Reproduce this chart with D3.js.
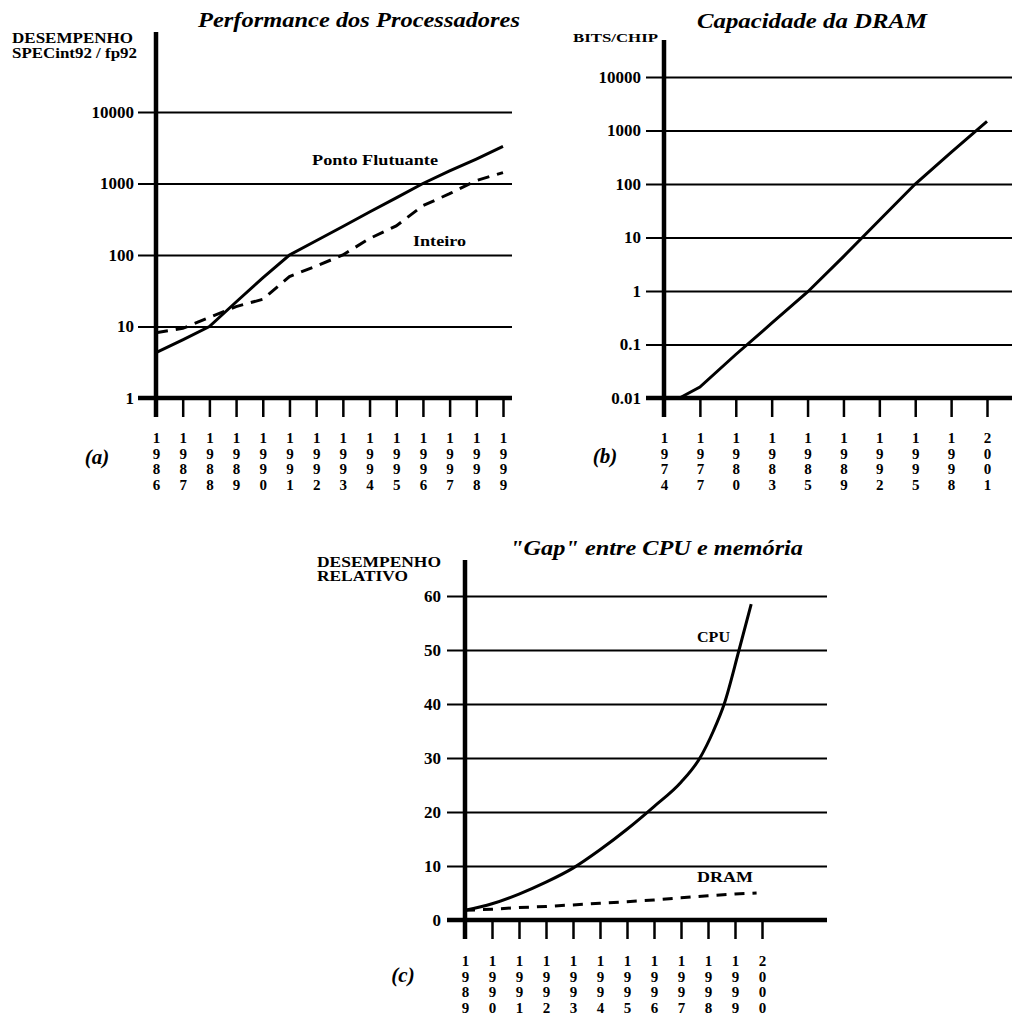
<!DOCTYPE html>
<html>
<head>
<meta charset="utf-8">
<script src="https://cdn.jsdelivr.net/npm/d3@7/dist/d3.min.js"></script>
<style>
  body { margin: 0; background: #fff; }
  text { font-family: "Liberation Serif", "Times New Roman", serif; fill: #000; }
</style>
</head>
<body>
<svg id="chart" width="1012" height="1016"></svg>
<script>
// ── (a) Performance dos Processadores ───────────────────────────
const perfYears = [1986, 1987, 1988, 1989, 1990, 1991, 1992, 1993, 1994, 1995, 1996, 1997, 1998, 1999];
const perfFloat = [4.3, 6.5, 10, 22, 48, 100, 158, 250, 400, 630, 1000, 1500, 2200, 3300];
const perfInt = [8.2, 9.4, 13.4, 19, 24, 50, 70, 100, 170, 255, 490, 720, 1100, 1420];
const perfYTicks = [1, 10, 100, 1000, 10000];

// ── (b) Capacidade da DRAM ───────────────────────────────────────
const dramTickYears = [1974, 1977, 1980, 1983, 1986, 1989, 1992, 1995, 1998, 2001];
const dramTickLabels = ['1974', '1977', '1980', '1983', '1985', '1989', '1992', '1995', '1998', '2001'];
const dramYears = [1975.3, 1977, 1980, 1983, 1986, 1989, 1992, 1995, 1998, 2001];
const dramBits = [0.01, 0.016, 0.065, 0.25, 0.96, 4.4, 21, 100, 390, 1480];
const dramYTicks = [0.01, 0.1, 1, 10, 100, 1000, 10000];

// ── (c) "Gap" entre CPU e memória ────────────────────────────────
const gapTickYears = [1989, 1990, 1991, 1992, 1993, 1994, 1995, 1996, 1997, 1998, 1999, 2000];
const gapTickLabels = ['1989', '1990', '1991', '1992', '1993', '1994', '1995', '1996', '1997', '1998', '1999', '2000'];
const cpuYears = [1989, 1990, 1991, 1992, 1993, 1994, 1995, 1996, 1997, 1997.7, 1998.2, 1998.6, 1999.15, 1999.6];
const cpuPerf = [1.8, 3, 4.8, 7, 9.6, 13, 16.8, 21, 25.5, 30, 35, 40, 50, 58.5];
const memYears = [1989, 1990, 1991, 1992, 1993, 1994, 1995, 1996, 1997, 1998, 1999, 1999.8];
const memPerf = [1.8, 2.0, 2.3, 2.5, 2.8, 3.1, 3.4, 3.7, 4.1, 4.5, 4.8, 5.0];
const gapYTicks = [0, 10, 20, 30, 40, 50, 60];

const svg = d3.select('#chart');

function panel(cfg) {
  const g = svg.append('g');
  const x = d3.scaleLinear().domain(cfg.xDomain).range(cfg.xRange);
  const y = (cfg.log ? d3.scaleLog() : d3.scaleLinear()).domain(cfg.yDomain).range(cfg.yRange);
  const axisX = cfg.xRange[0];
  const base = cfg.yRange[0];
  const tickOut = 18;

  // gridlines + left ticks + labels
  g.append('g')
    .attr('transform', `translate(${axisX - tickOut},0)`)
    .call(d3.axisLeft(y).tickValues(cfg.yTicks)
      .tickSize(-(cfg.gridRight - axisX + tickOut))
      .tickPadding(cfg.yPad)
      .tickFormat(d => String(d)))
    .call(a => a.select('.domain').remove())
    .call(a => a.selectAll('line').attr('stroke', '#000').attr('stroke-width', 2))
    .call(a => a.selectAll('text')
      .attr('font-family', '"Liberation Serif", serif')
      .attr('font-size', 17).attr('font-weight', 'bold').attr('fill', '#000'));

  // bottom ticks with stacked digit labels
  const xa = g.append('g')
    .attr('transform', `translate(0,${base})`)
    .call(d3.axisBottom(x).tickValues(cfg.xTicks).tickSize(19).tickFormat(''))
    .call(a => a.select('.domain').remove())
    .call(a => a.selectAll('line').attr('stroke', '#000').attr('stroke-width', 2.5));
  xa.selectAll('.tick').each(function (d, i) {
    const t = d3.select(this).append('text')
      .attr('text-anchor', 'middle')
      .attr('font-size', 15).attr('font-weight', 'bold')
      .attr('fill', '#000');
    cfg.xLabels[i].split('').forEach((ch, k) => {
      t.append('tspan').attr('x', 0).attr('y', cfg.labelTop - base + k * 15.5).text(ch);
    });
  });

  // thick axes
  g.append('line').attr('x1', axisX - tickOut).attr('x2', cfg.gridRight)
    .attr('y1', base).attr('y2', base).attr('stroke', '#000').attr('stroke-width', 4.5);
  g.append('line').attr('x1', axisX).attr('x2', axisX)
    .attr('y1', cfg.axisTop).attr('y2', base + 19).attr('stroke', '#000').attr('stroke-width', 4.5);

  // series
  cfg.series.forEach(s => {
    const pts = s.xs.map((v, i) => [v, s.ys[i]]);
    const line = d3.line().x(d => x(d[0])).y(d => y(d[1])).curve(s.curve || d3.curveLinear);
    g.append('path').attr('d', line(pts))
      .attr('fill', 'none').attr('stroke', '#000').attr('stroke-width', 3)
      .attr('stroke-dasharray', s.dash || null);
  });

  // texts
  cfg.texts.forEach(t => {
    const el = g.append('text').attr('x', t.x).attr('y', t.y)
      .attr('font-size', t.size).attr('font-weight', 'bold')
      .attr('font-style', t.italic ? 'italic' : 'normal')
      .attr('text-anchor', t.anchor || 'start')
      .text(t.text);
    if (t.w) el.attr('textLength', t.w).attr('lengthAdjust', 'spacingAndGlyphs');
  });
}

panel({
  log: true,
  xDomain: [1986, 1999], xRange: [156, 503],
  yDomain: [1, 10000], yRange: [398, 112],
  yTicks: perfYTicks, yPad: 4, gridRight: 512, axisTop: 32,
  xTicks: perfYears, xLabels: perfYears.map(String), labelTop: 443,
  series: [
    { xs: perfYears, ys: perfFloat },
    { xs: perfYears, ys: perfInt, dash: '12,8' }
  ],
  texts: [
    { text: 'Performance dos Processadores', x: 198, y: 27, size: 22, italic: true, w: 322 },
    { text: 'DESEMPENHO', x: 12, y: 43, size: 14, w: 121 },
    { text: 'SPECint92 / fp92', x: 12, y: 58, size: 14, w: 125 },
    { text: 'Ponto Flutuante', x: 312, y: 165, size: 15, w: 126 },
    { text: 'Inteiro', x: 413, y: 246, size: 15, w: 53 },
    { text: '(a)', x: 97, y: 464, size: 21, italic: true, anchor: 'middle' }
  ]
});

panel({
  log: true,
  xDomain: [1974, 2001], xRange: [664, 987],
  yDomain: [0.01, 10000], yRange: [398, 77],
  yTicks: dramYTicks, yPad: 5, gridRight: 1012, axisTop: 40,
  xTicks: dramTickYears, xLabels: dramTickLabels, labelTop: 443,
  series: [
    { xs: dramYears, ys: dramBits }
  ],
  texts: [
    { text: 'Capacidade da DRAM', x: 697, y: 28, size: 22, italic: true, w: 230 },
    { text: 'BITS/CHIP', x: 573, y: 42, size: 13, w: 85 },
    { text: '(b)', x: 605, y: 463, size: 21, italic: true, anchor: 'middle' }
  ]
});

panel({
  log: false,
  xDomain: [1989, 2000], xRange: [465, 762],
  yDomain: [0, 60], yRange: [920, 596],
  yTicks: gapYTicks, yPad: 6, gridRight: 827, axisTop: 560,
  xTicks: gapTickYears, xLabels: gapTickLabels, labelTop: 966,
  series: [
    { xs: cpuYears, ys: cpuPerf, curve: d3.curveMonotoneX },
    { xs: memYears, ys: memPerf, dash: '10,8' }
  ],
  texts: [
    { text: '"Gap" entre CPU e memória', x: 510, y: 555, size: 22, italic: true, w: 293 },
    { text: 'DESEMPENHO', x: 317, y: 567, size: 14, w: 124 },
    { text: 'RELATIVO', x: 317, y: 581, size: 14, w: 91 },
    { text: 'CPU', x: 697, y: 642, size: 15, w: 33 },
    { text: 'DRAM', x: 697, y: 882, size: 15, w: 56 },
    { text: '(c)', x: 403, y: 982, size: 21, italic: true, anchor: 'middle' }
  ]
});
</script>
</body>
</html>
